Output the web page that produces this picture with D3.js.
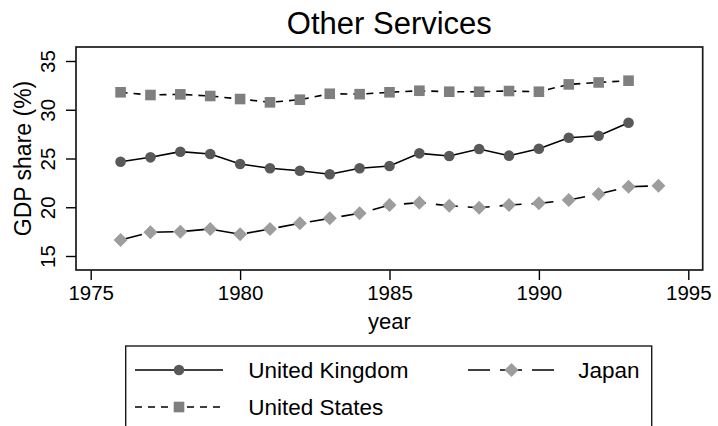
<!DOCTYPE html>
<html>
<head>
<meta charset="utf-8">
<script src="https://cdn.jsdelivr.net/npm/d3@7/dist/d3.min.js"></script>
<style>
  html, body { margin: 0; padding: 0; background: #fff; }
  svg { display: block; }
  text { font-family: "Liberation Sans", Arial, Helvetica, sans-serif; fill: #000; }
</style>
</head>
<body>
<svg id="chart" width="718" height="426"></svg>
<script>
const years = [1976,1977,1978,1979,1980,1981,1982,1983,1984,1985,1986,1987,1988,1989,1990,1991,1992,1993,1994];
const ukValues = [24.67,25.12,25.7,25.46,24.44,24.0,23.75,23.38,24.0,24.23,25.53,25.26,25.97,25.29,26.0,27.13,27.34,28.67,null];
const usValues = [31.79,31.51,31.58,31.41,31.1,30.76,31.03,31.64,31.6,31.79,31.95,31.85,31.85,31.92,31.85,32.6,32.8,32.98,null];
const japanValues = [16.64,17.43,17.5,17.77,17.22,17.77,18.35,18.86,19.38,20.23,20.47,20.16,19.95,20.23,20.4,20.74,21.36,22.1,22.2];
const xTicks = [1975,1980,1985,1990,1995];
const yTicks = [15,20,25,30,35];
const seriesNames = ["United Kingdom","United States","Japan"];
const titleText = "Other Services";
const xTitle = "year";
const yTitle = "GDP share (%)";

const svg = d3.select("#chart");
const frame = {left: 76, right: 702.7, top: 47, bottom: 270};

const x = d3.scaleLinear().domain([1975, 1995]).range([90.7, 688.3]);
const y = d3.scaleLinear().domain([15, 35]).range([256, 61]);

const styles = {
  "United Kingdom": {values: ukValues, dash: null, marker: "circle", fill: "#595959"},
  "United States": {values: usValues, dash: "7,6", marker: "square", fill: "#7f7f7f"},
  "Japan": {values: japanValues, dash: "22,10", marker: "diamond", fill: "#9d9d9d"}
};

function drawMarker(g, type, cx, cy, fill) {
  if (type === "circle") {
    g.append("circle").attr("cx", cx).attr("cy", cy).attr("r", 5.3).attr("fill", fill);
  } else if (type === "square") {
    g.append("rect").attr("x", cx - 5.3).attr("y", cy - 5.3).attr("width", 10.6).attr("height", 10.6).attr("fill", fill);
  } else {
    const r = 7;
    g.append("path").attr("d", `M${cx},${cy - r}L${cx + r},${cy}L${cx},${cy + r}L${cx - r},${cy}Z`).attr("fill", fill);
  }
}

// Title
svg.append("text").attr("x", (frame.left + frame.right) / 2).attr("y", 34)
  .attr("text-anchor", "middle").style("font-size", "31px").text(titleText);

// Axes
const xAxis = svg.append("g").attr("transform", `translate(0,${frame.bottom})`)
  .call(d3.axisBottom(x).tickValues(xTicks).tickFormat(d3.format("d")).tickSize(10).tickPadding(6));
xAxis.select(".domain").remove();
xAxis.selectAll("line").attr("stroke", "#000").attr("stroke-width", 1.4);
xAxis.selectAll("text").style("font-size", "20.5px").attr("font-family", null).attr("dy", null).attr("y", 30);

const yAxis = svg.append("g").attr("transform", `translate(${frame.left},0)`)
  .call(d3.axisLeft(y).tickValues(yTicks).tickFormat(d3.format("d")).tickSize(10));
yAxis.select(".domain").remove();
yAxis.selectAll("line").attr("stroke", "#000").attr("stroke-width", 1.4);
yAxis.selectAll("text")
  .attr("x", null).attr("dy", null).attr("font-family", null)
  .attr("text-anchor", "middle")
  .attr("transform", "translate(-21,0) rotate(-90)")
  .attr("y", 0)
  .style("font-size", "20.5px");

// Axis titles
svg.append("text").attr("x", (frame.left + frame.right) / 2).attr("y", 329)
  .attr("text-anchor", "middle").style("font-size", "22px").text(xTitle);
svg.append("text").attr("transform", `translate(31,${(frame.top + frame.bottom) / 2}) rotate(-90)`)
  .attr("text-anchor", "middle").style("font-size", "23px").text(yTitle);

// Series
const plot = svg.append("g");
seriesNames.forEach(name => {
  const s = styles[name];
  const pts = years.map((yr, i) => ({yr, v: s.values[i]})).filter(d => d.v !== null);
  const line = d3.line().x(d => x(d.yr)).y(d => y(d.v));
  plot.append("path").datum(pts).attr("d", line).attr("fill", "none")
    .attr("stroke", "#000").attr("stroke-width", 1.6)
    .attr("stroke-dasharray", s.dash);
});
seriesNames.forEach(name => {
  const s = styles[name];
  const g = plot.append("g");
  years.forEach((yr, i) => {
    if (s.values[i] !== null) drawMarker(g, s.marker, x(yr), y(s.values[i]), s.fill);
  });
});

// Frame
svg.append("rect").attr("x", frame.left).attr("y", frame.top)
  .attr("width", frame.right - frame.left).attr("height", frame.bottom - frame.top)
  .attr("fill", "none").attr("stroke", "#1a1a1a").attr("stroke-width", 1.7);

// Legend
const leg = svg.append("g");
leg.append("rect").attr("x", 125.7).attr("y", 346).attr("width", 526).attr("height", 110)
  .attr("fill", "none").attr("stroke", "#1a1a1a").attr("stroke-width", 1.4);
const legItems = [
  {name: "United Kingdom", x0: 135, x1: 223, tx: 248.3, cy: 370},
  {name: "Japan", x0: 468, x1: 555, tx: 578.3, cy: 370},
  {name: "United States", x0: 135, x1: 223, tx: 248.3, cy: 407}
];
legItems.forEach(it => {
  const s = styles[it.name];
  leg.append("line").attr("x1", it.x0).attr("x2", it.x1).attr("y1", it.cy).attr("y2", it.cy)
    .attr("stroke", "#000").attr("stroke-width", 1.6).attr("stroke-dasharray", s.dash);
  drawMarker(leg, s.marker, (it.x0 + it.x1) / 2, it.cy, s.fill);
  leg.append("text").attr("x", it.tx).attr("y", it.cy + 8).style("font-size", "22.5px").text(it.name);
});
</script>
</body>
</html>
